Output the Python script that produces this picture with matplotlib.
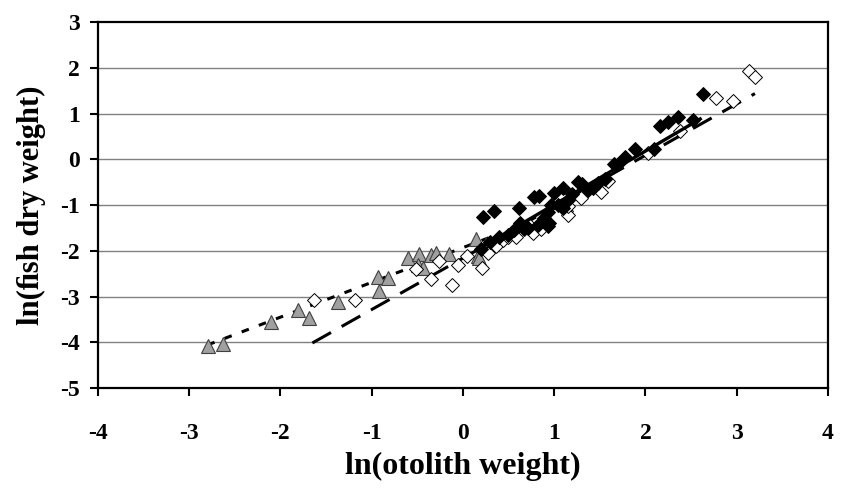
import matplotlib
matplotlib.use("Agg")
import matplotlib.pyplot as plt
import numpy as np

plt.rcParams['font.family'] = ['Liberation Serif', 'DejaVu Serif']
plt.rcParams['font.weight'] = 'bold'

# gray triangles
tri_x = [-2.79, -2.63, -2.10, -1.81, -1.69, -1.37, -0.93, -0.82, -0.92, -0.60,
         -0.48, -0.49, -0.44, -0.35, -0.30, -0.15, 0.14, 0.16, 0.25, 0.18]
tri_y = [-4.09, -4.04, -3.56, -3.30, -3.46, -3.12, -2.58, -2.60, -2.88, -2.15,
         -2.08, -2.30, -2.37, -2.10, -2.04, -2.08, -1.75, -2.12, -1.86, -2.15]

# open diamonds
open_x = [-1.63, -1.18, -0.51, -0.35, -0.26, -0.12, -0.05, 0.05, 0.21, 0.28,
          0.36, 0.44, 0.49, 0.58, 0.74, 0.77, 0.85, 1.13, 1.15, 1.15,
          1.29, 1.51, 1.59, 2.03, 2.38, 2.77, 2.96, 3.13, 3.20]
open_y = [-3.08, -3.08, -2.40, -2.62, -2.22, -2.75, -2.30, -2.12, -2.37, -2.04,
          -1.90, -1.77, -1.69, -1.69, -1.46, -1.62, -1.53, -1.12, -1.21, -1.02,
          -0.84, -0.71, -0.48, 0.13, 0.61, 1.35, 1.27, 1.92, 1.79]

# black diamonds
blk_x = [0.22, 0.34, 0.61, 0.78, 0.83, 1.00, 1.10, 1.26, 1.37, 1.48,
         1.56, 1.65, 0.96, 0.93, 0.89, 0.94, 0.82, 0.71, 0.63, 0.56,
         0.49, 1.04, 1.10, 1.15, 0.93, 0.67, 1.78, 1.89, 2.09, 2.16,
         2.25, 2.36, 2.52, 2.63, 0.30, 0.20, 0.40, 1.20, 1.70, 1.42, 1.30]
blk_y = [-1.25, -1.13, -1.07, -0.83, -0.80, -0.74, -0.63, -0.50, -0.66, -0.51,
         -0.44, -0.11, -0.99, -1.15, -1.29, -1.39, -1.44, -1.50, -1.39, -1.55,
         -1.65, -0.99, -1.06, -0.88, -1.46, -1.53, 0.04, 0.22, 0.22, 0.72,
         0.81, 0.92, 0.85, 1.42, -1.80, -1.95, -1.70, -0.75, -0.10, -0.62, -0.55]

# regression lines: (intercept, slope, x_start, x_end)
tri_fit = (-1.93, 0.76, -2.80, 0.30)
open_fit = (-2.16, 1.124, -1.65, 3.20)
blk_fit = (-2.16, 1.17, 0.15, 2.60)

xticks = [-4, -3, -2, -1, 0, 1, 2, 3, 4]
yticks = [-5, -4, -3, -2, -1, 0, 1, 2, 3]

fig = plt.figure(figsize=(8.44, 4.90), dpi=100)
ax = fig.add_axes([0.116, 0.208, 0.865, 0.747])

for yv in yticks[1:-1]:
    ax.axhline(yv, color='#808080', lw=1.0, zorder=0)

def fit_line(p):
    a, b, x0, x1 = p
    xs = np.array([x0, x1])
    return xs, a + b * xs

xs, ys = fit_line(open_fit)
ax.plot(xs, ys, color='black', lw=2.2, dashes=(7, 4), zorder=2)
xs, ys = fit_line(tri_fit)
ax.plot(xs, ys, color='black', lw=2.2, dashes=(2.5, 3.5), zorder=2)
xs, ys = fit_line(blk_fit)
ax.plot(xs, ys, color='black', lw=2.4, zorder=4)

ax.plot(tri_x, tri_y, linestyle='none', marker='^', ms=10,
        mfc='#a0a0a0', mec='#404040', mew=0.8, zorder=3)
ax.plot(open_x, open_y, linestyle='none', marker='D', ms=7.5,
        mfc='white', mec='black', mew=0.7, zorder=3)
ax.plot(blk_x, blk_y, linestyle='none', marker='D', ms=7.5,
        mfc='black', mec='black', mew=0.7, zorder=3)

ax.set_xlim(-4, 4)
ax.set_ylim(-5, 3)
ax.set_xticks(xticks)
ax.set_yticks(yticks)
ax.set_xticklabels([str(v) for v in xticks])
ax.set_yticklabels([str(v) for v in yticks])
for s in ax.spines.values():
    s.set_linewidth(1.6)
ax.tick_params(axis='both', direction='out', length=6, width=1.5,
               labelsize=17)
ax.tick_params(axis='x', pad=19)
ax.tick_params(axis='y', pad=7)
for lab in ax.get_xticklabels() + ax.get_yticklabels():
    lab.set_fontweight('bold')

ax.set_xlabel('ln(otolith weight)', fontsize=23, fontweight='bold', labelpad=6)
ax.set_ylabel('ln(ﬁsh dry weight)', fontsize=22, fontweight='bold', labelpad=10)

fig.savefig('out.png', dpi=100)
